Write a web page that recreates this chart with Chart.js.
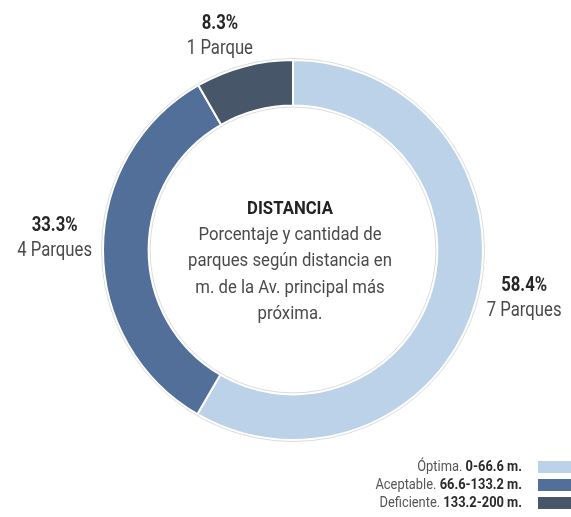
<!DOCTYPE html>
<html>
<head>
<meta charset="utf-8">
<script src="https://cdn.jsdelivr.net/npm/chart.js@4.4.1/dist/chart.umd.min.js"></script>
<style>
  html, body { margin: 0; padding: 0; background: #fff; }
  #distanciaChart { display: block; }
</style>
</head>
<body>
<canvas id="distanciaChart" width="571" height="517"></canvas>
<script>
// Parques por distancia a la avenida principal
const categories = ['Óptima.', 'Aceptable.', 'Deficiente.'];
const ranges = ['0-66.6 m.', '66.6-133.2 m.', '133.2-200 m.'];
const percentages = [58.4, 33.3, 8.3];
const parkCounts = [7, 4, 1];
const centerTitle = 'DISTANCIA';
const centerLines = [
  'Porcentaje y cantidad de',
  'parques según distancia en',
  'm. de la Av. principal más',
  'próxima.'
];

const colors = ['#bbd2e8', '#526f99', '#475769'];
// small hand nudges for the outside labels
const labelNudge = [[2, -9], [-1, -11], [-13, 1]];

// use a narrow face when installed, otherwise squeeze a regular one
function hasFont(name) {
  const c = document.createElement('canvas').getContext('2d');
  const probe = 'mmmmmmmwwwwlli 0123456789';
  c.font = '40px monospace';
  const a = c.measureText(probe).width;
  c.font = `40px "${name}", monospace`;
  return c.measureText(probe).width !== a;
}
let family = 'Roboto, "Liberation Sans", sans-serif';
let labelSqueeze = 0.835;
let centerSqueeze = 0.88;
let legendSqueeze = 0.92;
if (hasFont('Liberation Sans Narrow')) {
  family = '"Liberation Sans Narrow", sans-serif';
  labelSqueeze = 1;
  centerSqueeze = 1;
  legendSqueeze = 1;
}

function textWidth(ctx, text, font, sx) {
  ctx.font = font;
  return ctx.measureText(text).width * sx;
}

function drawText(ctx, text, x, y, font, color, align, sx) {
  ctx.save();
  ctx.font = font;
  ctx.fillStyle = color;
  ctx.textAlign = align;
  ctx.textBaseline = 'middle';
  ctx.translate(x, y);
  ctx.scale(sx, 1);
  ctx.fillText(text, 0, 0);
  ctx.restore();
}

const ringOutline = {
  id: 'ringOutline',
  afterDatasetsDraw(chart) {
    const arc = chart.getDatasetMeta(0).data[0];
    if (!arc) return;
    const ctx = chart.ctx;
    ctx.save();
    ctx.strokeStyle = '#dcdcdc';
    ctx.lineWidth = 1;
    ctx.beginPath();
    ctx.arc(arc.x, arc.y, arc.outerRadius + 1.5, 0, Math.PI * 2);
    ctx.stroke();
    ctx.beginPath();
    ctx.arc(arc.x, arc.y, arc.innerRadius - 1.5, 0, Math.PI * 2);
    ctx.stroke();
    ctx.restore();
  }
};

const sliceLabels = {
  id: 'sliceLabels',
  afterDraw(chart) {
    const ctx = chart.ctx;
    const bold = `bold 20px ${family}`;
    const normal = `20px ${family}`;
    chart.getDatasetMeta(0).data.forEach((arc, i) => {
      const mid = (arc.startAngle + arc.endAngle) / 2;
      const dx = Math.cos(mid), dy = Math.sin(mid);
      const r = arc.outerRadius + 10;
      const top = percentages[i].toFixed(1) + '%';
      const bottom = parkCounts[i] + (parkCounts[i] === 1 ? ' Parque' : ' Parques');
      const w = Math.max(textWidth(ctx, top, bold, labelSqueeze),
                         textWidth(ctx, bottom, normal, labelSqueeze));
      const h = 44;
      const cx = arc.x + r * dx + dx * w / 2 + labelNudge[i][0];
      const cy = arc.y + r * dy + dy * h / 2 + labelNudge[i][1];
      drawText(ctx, top, cx, cy - 12.5, bold, '#262626', 'center', labelSqueeze);
      drawText(ctx, bottom, cx, cy + 12.5, normal, '#4a4a4a', 'center', labelSqueeze);
    });
  }
};

const centerText = {
  id: 'centerText',
  afterDraw(chart) {
    const arc = chart.getDatasetMeta(0).data[0];
    const ctx = chart.ctx;
    const x = arc.x - 3;
    drawText(ctx, centerTitle, x, 209, `bold 19px ${family}`, '#222', 'center', centerSqueeze);
    centerLines.forEach((line, i) => {
      drawText(ctx, line, x, 235 + i * 26.5, `19px ${family}`, '#4a4a4a', 'center', centerSqueeze);
    });
  }
};

const rangeLegend = {
  id: 'rangeLegend',
  afterDraw(chart) {
    const ctx = chart.ctx;
    const right = 522;
    const bold = `bold 14px ${family}`;
    const normal = `14px ${family}`;
    categories.forEach((name, i) => {
      const y = 467 + i * 18;
      const bw = textWidth(ctx, ranges[i], bold, legendSqueeze);
      const sp = textWidth(ctx, ' ', normal, legendSqueeze);
      drawText(ctx, ranges[i], right, y, bold, '#2a2a2a', 'right', legendSqueeze);
      drawText(ctx, name, right - bw - sp, y, normal, '#555', 'right', legendSqueeze);
      ctx.fillStyle = colors[i];
      ctx.fillRect(538, y - 6, 40, 12);
    });
  }
};

new Chart(document.getElementById('distanciaChart').getContext('2d'), {
  type: 'doughnut',
  data: {
    labels: categories,
    datasets: [{
      data: percentages,
      backgroundColor: colors,
      borderColor: '#ffffff',
      borderWidth: 2
    }]
  },
  options: {
    responsive: false,
    animation: false,
    cutout: '76%',
    layout: {
      padding: { left: 102, right: 87, top: 59, bottom: 76 }
    },
    plugins: {
      legend: { display: false },
      tooltip: { enabled: false }
    }
  },
  plugins: [ringOutline, sliceLabels, centerText, rangeLegend]
});
</script>
</body>
</html>
